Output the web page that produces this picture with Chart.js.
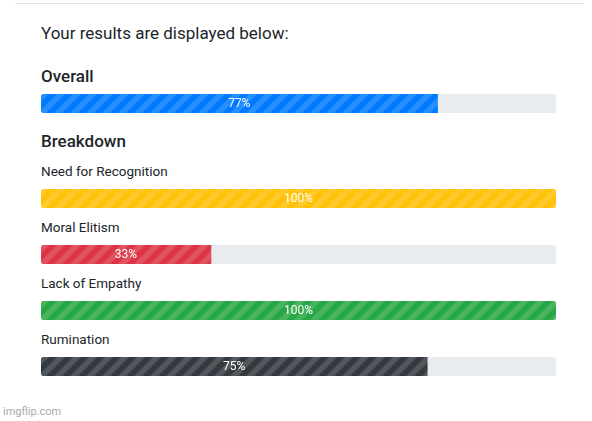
<!DOCTYPE html>
<html><head><meta charset="utf-8">
<script src="https://cdn.jsdelivr.net/npm/chart.js@4"></script>
<style>
body{margin:0;width:592px;height:421px;background:#fff;font-family:Roboto,"Noto Sans",sans-serif;color:#212529;position:relative;overflow:hidden}
.t{position:absolute;left:41px;white-space:nowrap}
.c{position:absolute;left:41px;width:515px;height:19px}
#top{position:absolute;left:15px;right:8px;top:3px;border-top:1px solid #dee2e6}
</style></head><body>
<div id="top"></div>
<div class="t" style="top:23px;font-size:17px">Your results are displayed below:</div>
<div class="t" style="top:66px;font-size:17px;font-weight:500">Overall</div>
<div class="t" style="top:131px;font-size:17px;font-weight:500">Breakdown</div>
<div id="wrap"></div>
<div style="position:absolute;left:3px;top:405px;font-size:11px;color:#aaa">imgflip.com</div>
<script>
const categories=["Overall","Need for Recognition","Moral Elitism","Lack of Empathy","Rumination"];
const values=[77,100,33,100,75];
const colors=["#007bff","#ffc107","#dc3545","#28a745","#343a40"];
const barTops=[94,189,245,301,357];
const labelTops=[null,163,219,275,331];
function stripe(col){
  const c=document.createElement('canvas');c.width=16;c.height=16;const x=c.getContext('2d');
  x.fillStyle=col;x.fillRect(0,0,16,16);
  x.fillStyle='rgba(255,255,255,0.15)';
  x.beginPath();x.moveTo(0,16);x.lineTo(8,8);x.lineTo(16,0);x.lineTo(16,8);x.lineTo(8,16);x.closePath();x.fill();
  x.beginPath();x.moveTo(0,0);x.lineTo(8,0);x.lineTo(0,8);x.closePath();x.fill();
  return x.createPattern(c,'repeat');
}
const textPlugin={id:'txt',afterDatasetsDraw(ch){
  const m=ch.getDatasetMeta(1).data[0];const ctx=ch.ctx;
  ctx.save();ctx.fillStyle='#fff';ctx.font='12px Roboto';ctx.textAlign='center';ctx.textBaseline='middle';
  ctx.fillText(ch.data.datasets[1].data[0]+'%',(m.base+m.x)/2,m.y);ctx.restore();}};
const wrap=document.getElementById('wrap');
categories.forEach((cat,i)=>{
  if(labelTops[i]!==null){const d=document.createElement('div');d.className='t';d.style.top=labelTops[i]+'px';d.style.fontSize='13.5px';d.textContent=cat;wrap.appendChild(d);}
  const box=document.createElement('div');box.className='c';box.style.top=barTops[i]+'px';
  const cv=document.createElement('canvas');box.appendChild(cv);wrap.appendChild(box);
  new Chart(cv,{type:'bar',data:{labels:[cat],datasets:[
    {data:[100],backgroundColor:'#e9ecef',grouped:false,order:2,borderRadius:4,borderSkipped:false},
    {data:[values[i]],backgroundColor:stripe(colors[i]),grouped:false,order:1,borderRadius:values[i]>=100?4:{topLeft:4,bottomLeft:4,topRight:0,bottomRight:0},borderSkipped:false}]},
    options:{indexAxis:'y',responsive:true,maintainAspectRatio:false,animation:false,
      layout:{padding:0},barPercentage:1,categoryPercentage:1,
      plugins:{legend:{display:false},tooltip:{enabled:false}},
      scales:{x:{display:false,min:0,max:100},y:{display:false}}},plugins:[textPlugin]});
});
</script></body></html>
